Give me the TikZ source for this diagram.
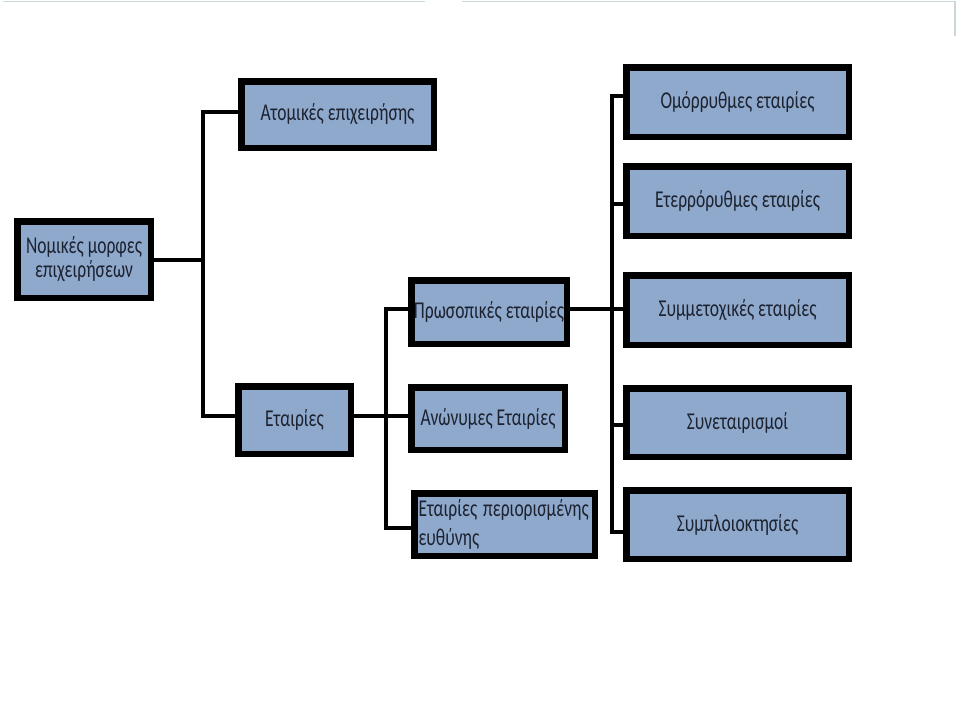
\documentclass[tikz,border=0pt]{standalone}
\usepackage{fontspec}
\usepackage{graphicx}
\setmainfont{Carlito}
\usetikzlibrary{calc}
\definecolor{boxfill}{HTML}{8FA9CC}
\definecolor{txt}{HTML}{1C2230}
\definecolor{rule}{HTML}{C9D9D9}
\newcommand{\tallt}[1]{\scalebox{1}[1.38]{#1}}
\tikzset{
  box/.style={draw=black, line width=6.5pt, fill=boxfill, inner sep=0pt,
    font=\fontsize{17.5}{24}\selectfont, text=txt, align=center},
  conn/.style={draw=black, line width=4pt, line join=miter},
  topline/.style={draw=rule, line width=1.5pt}
}
\begin{document}
\begin{tikzpicture}[x=1pt, y=-1pt]
\useasboundingbox (0,0) rectangle (959,715);
% top frame lines
\coordinate (fa) at (3,1.5);
\coordinate (fb) at (425,1.5);
\coordinate (fc) at (462,1.5);
\coordinate (fd) at (955,1.5);
\coordinate (fe) at (955,36);
\draw[topline] (fa) -- (fb);
\draw[topline] (fc) -- (fd) -- (fe);
% boxes (size = outer size minus line width)
\node[box, minimum width=133.5pt, minimum height=76.5pt] (nom) at (84,259.5) {\tallt{Νομικές μορφες}\\\tallt{επιχειρήσεων}};
\node[box, minimum width=192.5pt, minimum height=66.5pt] (atom) at (337.5,114.5) {\tallt{Ατομικές επιχειρήσης}};
\node[box, minimum width=112.5pt, minimum height=67.5pt] (etai) at (294.5,420) {\tallt{Εταιρίες}};
\node[box, minimum width=155.5pt, minimum height=63.5pt] (pros) at (489,312) {\tallt{Πρωσοπικές εταιρίες}};
\node[box, minimum width=153.5pt, minimum height=62.5pt] (anon) at (488,418.5) {\tallt{Ανώνυμες Εταιρίες}};
\node[box, minimum width=180.5pt, minimum height=62.5pt, align=left,
  font=\fontsize{17.5}{29}\selectfont, text width=172pt] (epe) at (504.5,524.5) {\tallt{Εταιρίες περιορισμένης}\\\tallt{ευθύνης}};
\node[box, minimum width=222.5pt, minimum height=69.5pt] (omo) at (737.5,102) {\tallt{Ομόρρυθμες εταιρίες}};
\node[box, minimum width=222.5pt, minimum height=69.5pt] (ete) at (737.5,201) {\tallt{Ετερρόρυθμες εταιρίες}};
\node[box, minimum width=222.5pt, minimum height=69.5pt] (sym) at (737.5,310) {\tallt{Συμμετοχικές εταιρίες}};
\node[box, minimum width=222.5pt, minimum height=68.5pt] (syn) at (737.5,422.5) {\tallt{Συνεταιρισμοί}};
\node[box, minimum width=222.5pt, minimum height=68.5pt] (spl) at (737.5,524.5) {\tallt{Συμπλοιοκτησίες}};
% trunk positions
\coordinate (t1) at (203,0);
\coordinate (t2) at (386,0);
\coordinate (t3) at (612,0);
% level 1
\draw[conn] ([yshift=2.5pt]atom.west) -- ([yshift=2.5pt]atom.west -| t1)
  -- ([yshift=4pt]etai.west -| t1) -- ([yshift=4pt]etai.west);
\draw[conn] (nom.east) -- (nom.east -| t1);
% level 2
\draw[conn] ([yshift=3pt]pros.west) -- ([yshift=3pt]pros.west -| t2)
  -- ([yshift=-3.5pt]epe.west -| t2) -- ([yshift=-3.5pt]epe.west);
\draw[conn] ([yshift=4pt]etai.east) -- ([yshift=2.5pt]anon.west);
% level 3
\draw[conn] ([yshift=6pt]omo.west) -- ([yshift=6pt]omo.west -| t3)
  -- ([yshift=-7.5pt]spl.west -| t3) -- ([yshift=-7.5pt]spl.west);
\draw[conn] ([yshift=-3pt]ete.west) -- ([yshift=-3pt]ete.west -| t3);
\draw[conn] ([yshift=3pt]pros.east) -- ([yshift=3pt]pros.east -| sym.west);
\draw[conn] ([yshift=-2.5pt]syn.west) -- ([yshift=-2.5pt]syn.west -| t3);
\end{tikzpicture}
\end{document}
